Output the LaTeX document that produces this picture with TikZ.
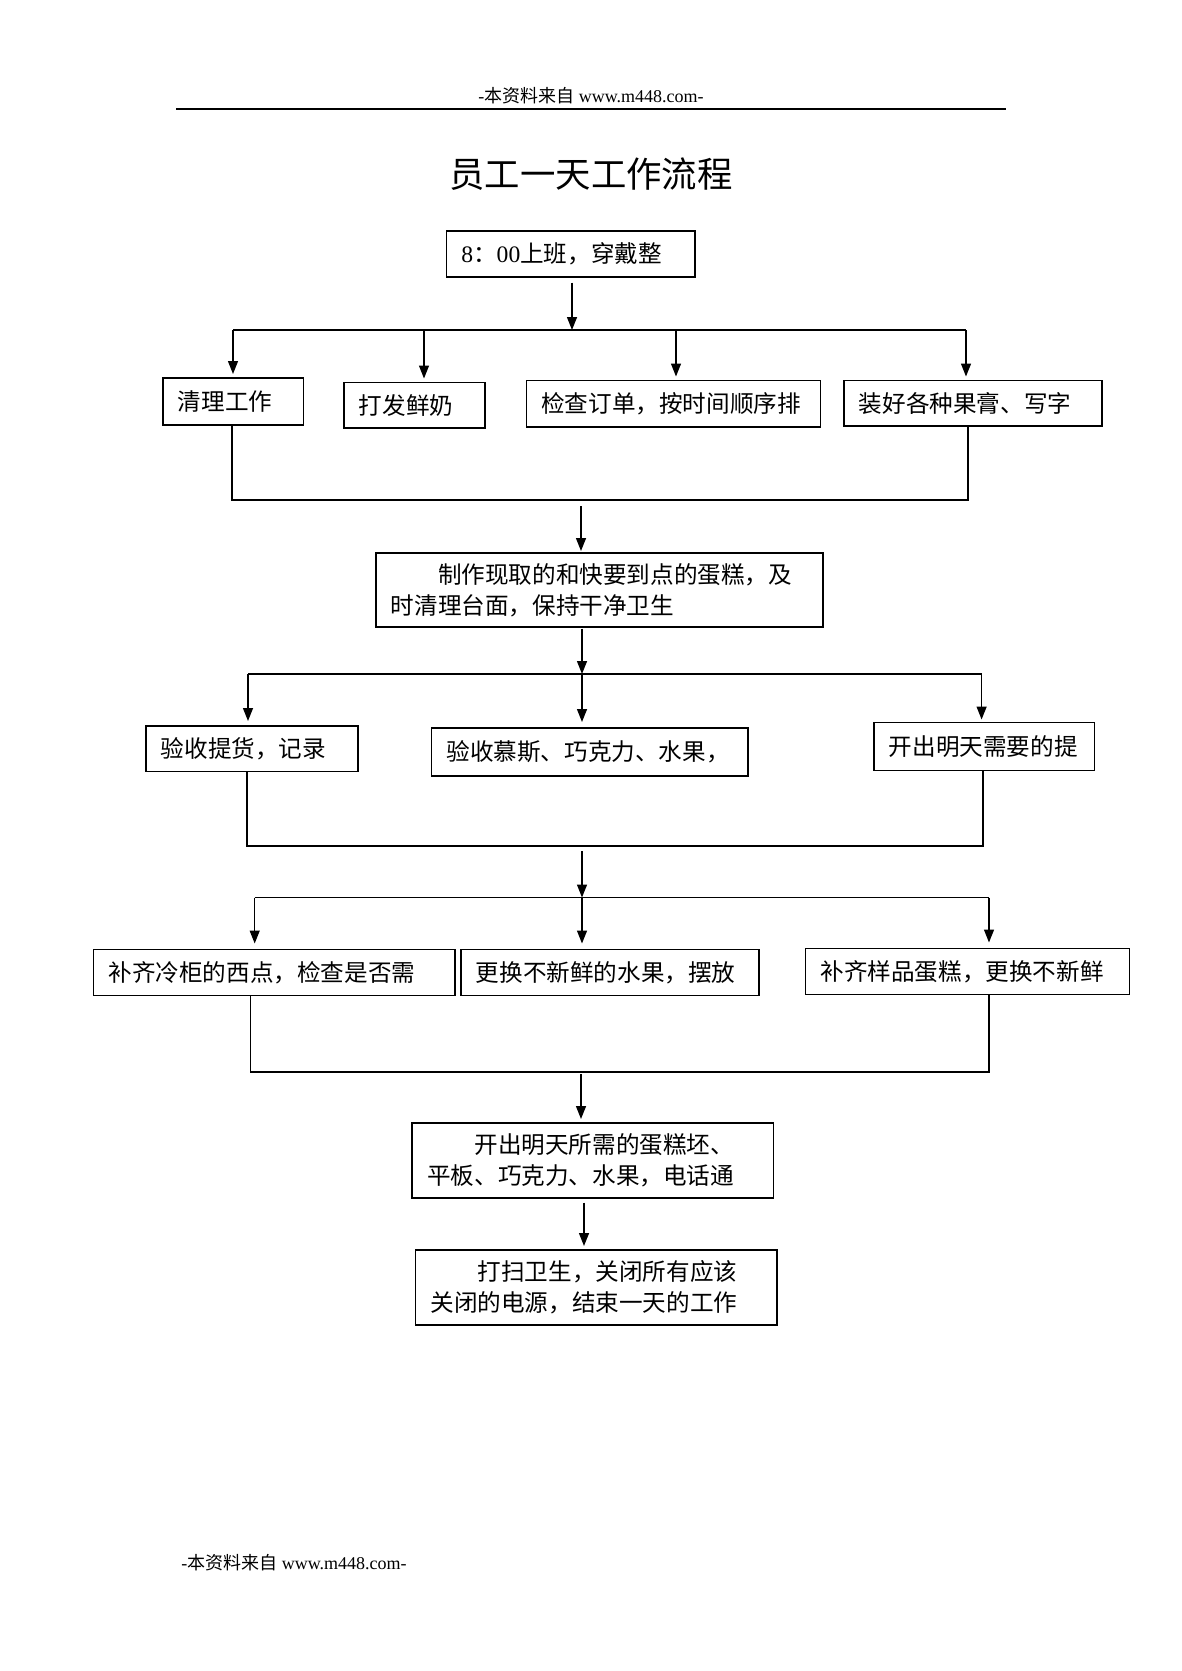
\documentclass[tikz,border=0pt]{standalone}
\usepackage{fontspec}
\setmainfont{Liberation Serif}
\newfontfamily\cjk{Noto Sans CJK SC}
\usetikzlibrary{arrows.meta}

\begin{document}
\begin{tikzpicture}[x=0.5pt, y=-0.5pt,
  stepbox/.style={draw, line width=0.8pt, anchor=north west, inner xsep=7.5pt, inner ysep=0pt,
    align=left, font=\cjk\fontsize{11.8}{15.5}\selectfont},
  link/.style={line width=0.7pt},
  arr/.style={link, -{Triangle[length=6.5pt,width=5pt]}}]
\useasboundingbox (0,0) rectangle (1182,1671);

% header and title
\node (head) at (591,96) {\fontsize{9}{11}\selectfont -{\cjk 本资料来自} www.m448.com-};
\coordinate (rl) at (176,109);
\coordinate (rr) at (1006,109);
\draw[line width=1pt] (rl) -- (rr);
\node (title) at (591,174) {\cjk\fontsize{17.7}{20}\selectfont 员工一天工作流程};

% steps
\node[stepbox, text width=109.25pt, minimum height=23pt] (start) at (445.5,230) {{\rmfamily 8}：{\rmfamily 00}上班，穿戴整};

\node[stepbox, text width=55.35pt, minimum height=23.5pt] (clean) at (162,377) {清理工作};
\node[stepbox, text width=55.5pt, minimum height=22.75pt] (whip) at (343,381.5) {打发鲜奶};
\node[stepbox, text width=132pt, minimum height=23.25pt] (orders) at (525.5,379.5) {检查订单，按时间顺序排};
\node[stepbox, text width=114pt, minimum height=22.75pt] (jam) at (843,379.5) {装好各种果膏、写字};

\node[stepbox, text width=208.5pt, minimum height=37pt] (make) at (375,552)
  {\hspace*{2em}制作现取的和快要到点的蛋糕，及\\时清理台面，保持干净卫生};

\node[stepbox, text width=91pt, minimum height=22.75pt] (recv) at (145,725) {验收提货，记录};
\node[stepbox, text width=143.2pt, minimum height=24pt] (mousse) at (430.6,727) {验收慕斯、巧克力、水果，};
\node[stepbox, text width=95.25pt, minimum height=24pt] (order2) at (873,721.5) {开出明天需要的提};

\node[stepbox, text width=165.65pt, minimum height=23pt] (fridge) at (92.7,948.5) {补齐冷柜的西点，检查是否需};
\node[stepbox, text width=134pt, minimum height=23pt] (fruit) at (460,948.5) {更换不新鲜的水果，摆放};
\node[stepbox, text width=147pt, minimum height=23pt] (sample) at (804.7,947.5) {补齐样品蛋糕，更换不新鲜};

\node[stepbox, text width=165.65pt, minimum height=37.5pt] (tomorrow) at (411.4,1122)
  {\hspace*{2em}开出明天所需的蛋糕坯、\\平板、巧克力、水果，电话通};
\node[stepbox, text width=165.7pt, minimum height=37.5pt] (finish) at (414.6,1249)
  {\hspace*{2em}打扫卫生，关闭所有应该\\关闭的电源，结束一天的工作};

\node[anchor=west, inner sep=0pt] (foot) at (181,1562.5) {\fontsize{9}{11}\selectfont -{\cjk 本资料来自} www.m448.com-};

% split after start
\coordinate (a0) at (572,330);
\coordinate (a1) at (233,330);
\coordinate (a2) at (424,330);
\coordinate (a3) at (676,330);
\coordinate (a4) at (966,330);
\draw[arr, shorten <=2.5pt] (start.south -| a0) -- (a0);
\draw[link] (a1) -- (a4);
\draw[arr, shorten >=1.5pt] (a1) -- (a1 |- clean.north);
\draw[arr, shorten >=1.5pt] (a2) -- (a2 |- whip.north);
\draw[arr, shorten >=1.5pt] (a3) -- (a3 |- orders.north);
\draw[arr, shorten >=1.5pt] (a4) -- (a4 |- jam.north);

% join into make
\coordinate (b0) at (581,500);
\coordinate (b1) at (232,500);
\coordinate (b2) at (968,500);
\draw[link] (clean.south -| b1) -- (b1) -- (b2) -- (jam.south -| b2);
\draw[arr, shorten <=3pt, shorten >=0.5pt] (b0) -- (b0 |- make.north);

% split after make
\coordinate (c0) at (582,674);
\coordinate (c1) at (248,674);
\coordinate (c3) at (981.6,674);
\draw[arr, shorten <=0.5pt] (make.south -| c0) -- (c0);
\draw[link] (c1) -- (c3);
\draw[arr, shorten >=2pt] (c1) -- (c1 |- recv.north);
\draw[arr, shorten >=2.5pt] (c0) -- (c0 |- mousse.north);
\draw[arr, shorten >=1pt] (c3) -- (c3 |- order2.north);

% join, then split again
\coordinate (d0) at (582,846);
\coordinate (d1) at (247,846);
\coordinate (d2) at (983,846);
\coordinate (e0) at (582,897.5);
\coordinate (e1) at (254.7,897.5);
\coordinate (e3) at (989,897.5);
\draw[link] (recv.south -| d1) -- (d1) -- (d2) -- (order2.south -| d2);
\draw[arr, shorten <=2.5pt] (d0) -- (e0);
\draw[link] (e1) -- (e3);
\draw[arr, shorten >=2.5pt] (e1) -- (e1 |- fridge.north);
\draw[arr, shorten >=2.5pt] (e0) -- (e0 |- fruit.north);
\draw[arr, shorten >=2.5pt] (e3) -- (e3 |- sample.north);

% join into tomorrow, then finish
\coordinate (f0) at (581,1072);
\coordinate (f1) at (250.5,1072);
\coordinate (f2) at (989,1072);
\coordinate (g0) at (584,1200);
\draw[link] (fridge.south -| f1) -- (f1) -- (f2) -- (sample.south -| f2);
\draw[arr, shorten <=1pt, shorten >=1.5pt] (f0) -- (f0 |- tomorrow.north);
\draw[arr, shorten <=2pt, shorten >=1.5pt] (tomorrow.south -| g0) -- (g0 |- finish.north);
\end{tikzpicture}
\end{document}
